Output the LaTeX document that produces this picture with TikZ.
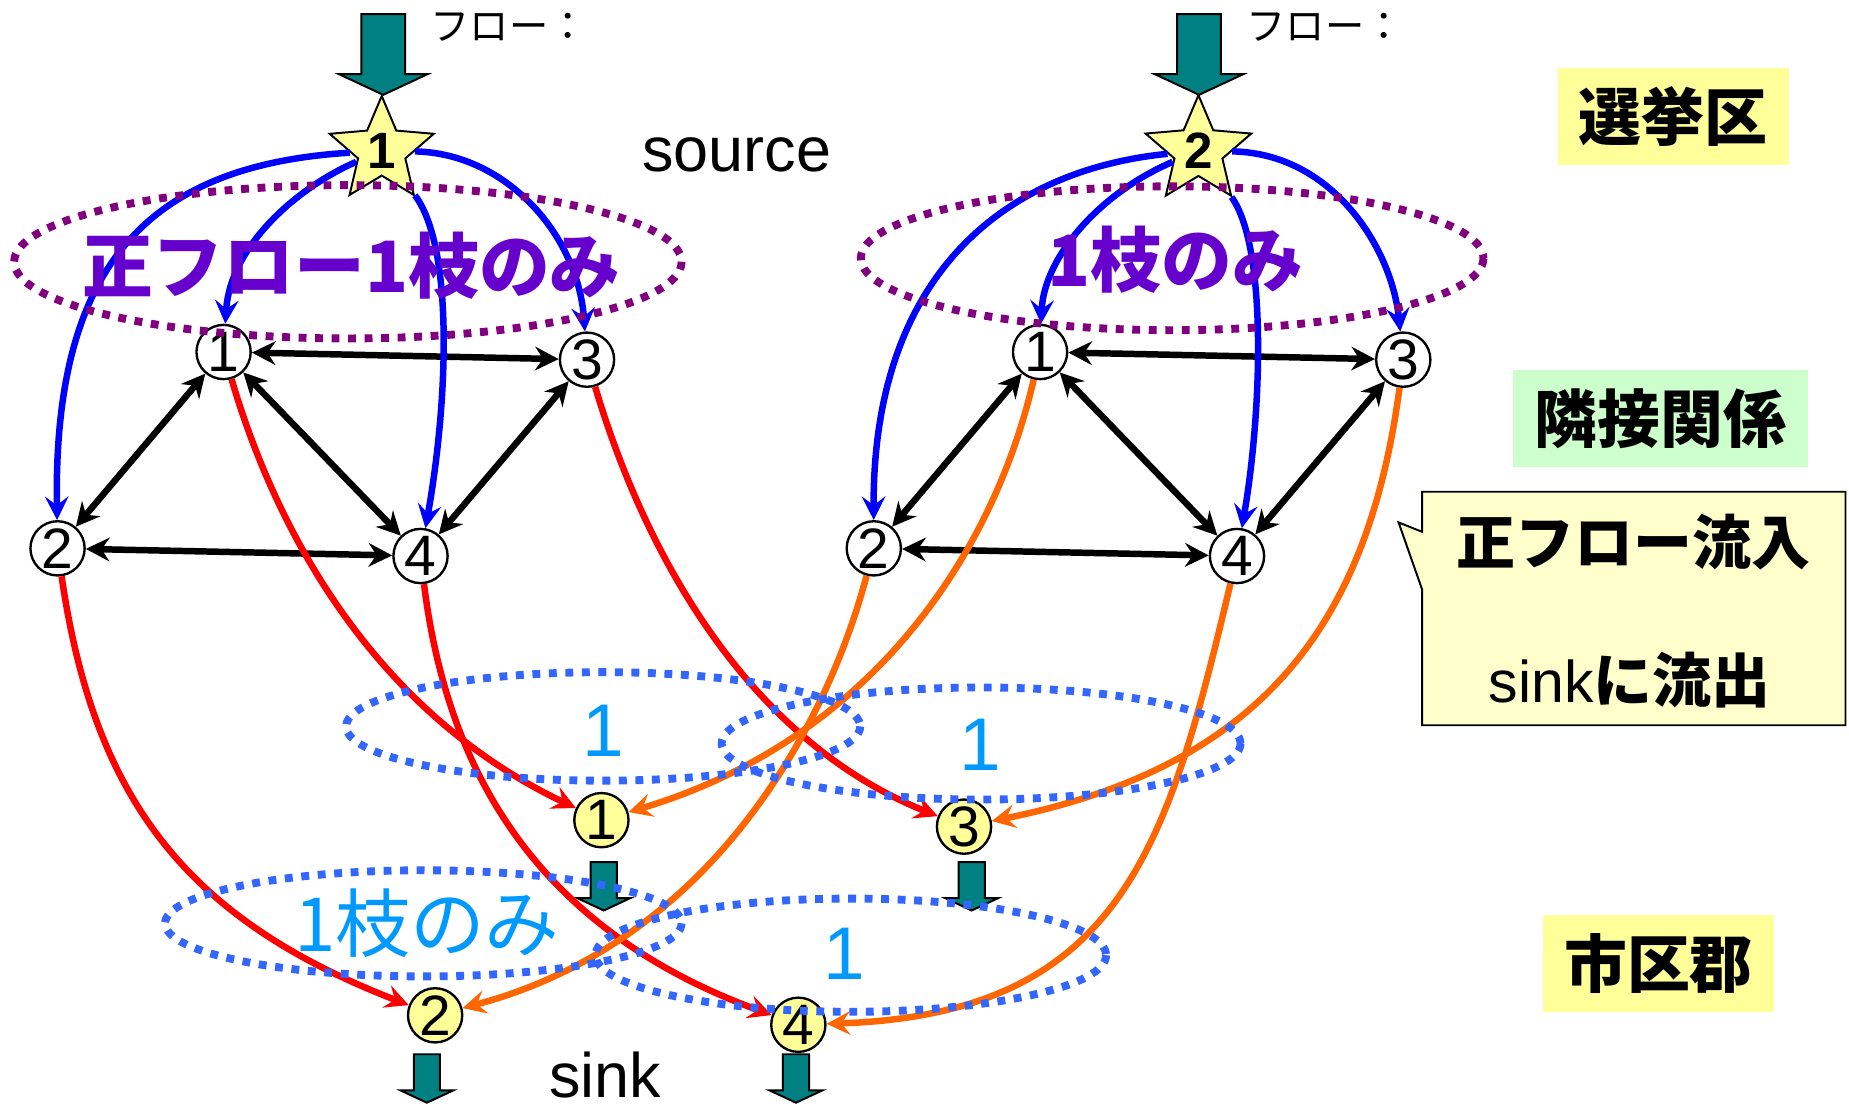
\documentclass[tikz,border=0pt]{standalone}
\usepackage{fontspec}
\setmainfont{Liberation Sans}
\newfontfamily\jpfont{Noto Sans CJK JP}
\usetikzlibrary{arrows.meta,shapes.geometric}

\definecolor{flowteal}{HTML}{008080}
\definecolor{starfill}{HTML}{FFFF99}
\definecolor{adjgreen}{HTML}{CCFFCC}
\definecolor{notefill}{HTML}{FFFFCC}
\definecolor{onlyone}{HTML}{6600CC}
\definecolor{ringpurple}{HTML}{800080}
\definecolor{ringblue}{HTML}{3366FF}
\definecolor{countblue}{HTML}{0099FF}
\definecolor{outorange}{HTML}{FF6600}

\tikzset{every picture/.style={line width=0.75pt}}
\tikzset{
  dnode/.style={circle,draw,line width=1.2pt,fill=white,minimum size=27.6pt,inner sep=0pt,font=\fontsize{29}{29}\selectfont},
  snode/.style={dnode,fill=starfill},
  srcstar/.style={star,star points=5,star point ratio=2.2,draw,line width=1pt,fill=starfill,minimum size=52pt,inner sep=0pt,font=\bfseries\fontsize{26}{26}\selectfont},
  tip/.style={-{Stealth[length=12pt,width=12pt,inset=4.5pt]}},
  srcflow/.style={blue,line width=3.3pt,tip},
  redflow/.style={red,line width=3.3pt,tip},
  orflow/.style={outorange,line width=3.3pt,tip},
  adjedge/.style={black,line width=3.3pt,{Stealth[length=12pt,width=12pt,inset=4pt]}-{Stealth[length=12pt,width=12pt,inset=4pt]}},
  purplering/.style={ringpurple,line width=4pt,dash pattern=on 4pt off 4.4pt},
  bluering/.style={ringblue,line width=4pt,dash pattern=on 4pt off 4.4pt},
  flowshape/.style={draw=black,line width=1pt,fill=flowteal},
  onlytext/.style={text=onlyone,inner sep=0pt,font=\jpfont\bfseries\fontsize{36}{36}\selectfont},
  countlbl/.style={text=countblue,inner sep=0pt,font=\fontsize{38}{38}\selectfont},
  tagbox/.style={minimum width=117.6pt,minimum height=49.2pt,inner sep=0pt,font=\jpfont\bfseries\fontsize{32}{32}\selectfont},
}

% big/small flow arrow pointing down, top centre at (#1,#2)
\newcommand{\tealarrow}[3]{%
  \begin{scope}[shift={(#1,#2)},scale=#3]
    \draw[flowshape] (-18.5,0) -- (18.5,0) -- (18.5,51) -- (37.5,51) -- (0,68.5) -- (-37.5,51) -- (-18.5,51) -- cycle;
  \end{scope}}

\begin{document}
\begin{tikzpicture}[x=0.6pt,y=0.6pt,yscale=-1,xscale=1]
\useasboundingbox (0,0) rectangle (1568,941);

% sources
\tealarrow{325}{11.9}{1}
\tealarrow{1016.8}{11.9}{1}
\node[anchor=west,font=\jpfont\fontsize{20}{20}\selectfont] (fl1) at (359,23) {フロー：};
\node[anchor=west,font=\jpfont\fontsize{20}{20}\selectfont] (fl2) at (1051,23) {フロー：};
\node[srcstar] (st1) at (323.7,127.8) {1};
\node[srcstar] (st2) at (1016.3,127.8) {2};
\node[anchor=base,font=\fontsize{32}{32}\selectfont] (srclbl) at (624.7,145.6) {source};

% adjacency graphs
\node[dnode] (n1) at (189.6,298.5) {1};
\node[dnode] (n2) at (48.8,465) {2};
\node[dnode] (n3) at (497.8,305) {3};
\node[dnode] (n4) at (356.6,471.5) {4};
\node[dnode] (m1) at (882,298.5) {1};
\node[dnode] (m2) at (741,465) {2};
\node[dnode] (m3) at (1190,305) {3};
\node[dnode] (m4) at (1049,471.5) {4};

\draw[adjedge] (n1) -- (n3);
\draw[adjedge] (n1) -- (n2);
\draw[adjedge] (n1) -- (n4);
\draw[adjedge] (n2) -- (n4);
\draw[adjedge] (n3) -- (n4);
\draw[adjedge] (m1) -- (m3);
\draw[adjedge] (m1) -- (m2);
\draw[adjedge] (m1) -- (m4);
\draw[adjedge] (m2) -- (m4);
\draw[adjedge] (m3) -- (m4);

% sinks
\node[snode] (s1) at (510,695.5) {1};
\node[snode] (s2) at (369,861) {2};
\node[snode] (s3) at (817.5,701) {3};
\node[snode] (s4) at (677,869) {4};
\tealarrow{512}{731}{0.6}
\tealarrow{824}{731}{0.6}
\tealarrow{362}{894}{0.6}
\tealarrow{675}{894}{0.6}
\node[anchor=base,font=\fontsize{32}{32}\selectfont] (sinklbl) at (513,931) {sink};

% source -> district
\draw[srcflow] (st1) .. controls (125,140) and (45,225) .. (n2);
\draw[srcflow] (st1) .. controls (250,160) and (195,210) .. (n1);
\draw[srcflow] (st1) .. controls (385,210) and (380,340) .. (n4);
\draw[srcflow] (st1) .. controls (430,130) and (490,200) .. (n3);
\draw[srcflow] (st2) .. controls (845,145) and (740,240) .. (m2);
\draw[srcflow] (st2) .. controls (930,165) and (885,220) .. (m1);
\draw[srcflow] (st2) .. controls (1075,210) and (1070,350) .. (m4);
\draw[srcflow] (st2) .. controls (1130,130) and (1180,210) .. (m3);

% district -> sink
\draw[redflow] (n1) .. controls (240,470) and (330,610) .. (s1);
\draw[redflow] (n3) .. controls (550,480) and (640,630) .. (s3);
\draw[redflow] (n2) .. controls (80,680) and (160,780) .. (s2);
\draw[redflow] (n4) .. controls (380,660) and (460,790) .. (s4);
\draw[orflow] (m1) .. controls (840,480) and (730,630) .. (s1);
\draw[orflow] (m3) .. controls (1160,530) and (1070,650) .. (s3);
\draw[orflow] (m2) .. controls (700,620) and (600,800) .. (s2);
\draw[orflow] (m4) .. controls (990,720) and (950,860) .. (s4);

% one-edge constraints
\draw[purplering] (295,222) ellipse [x radius=283,y radius=65];
\draw[purplering] (994,219) ellipse [x radius=264,y radius=61];
\draw[bluering] (511.5,616) ellipse [x radius=218,y radius=46];
\draw[bluering] (832,630.5) ellipse [x radius=220,y radius=47.5];
\draw[bluering] (359,783) ellipse [x radius=219,y radius=45];
\draw[bluering] (721.5,810) ellipse [x radius=216.5,y radius=48];
\node[onlytext] (cap1) at (298,225) {正フロー1枝のみ};
\node[onlytext] (cap2) at (996.5,220.5) {1枝のみ};
\node[countlbl] (c1) at (512,620) {1};
\node[countlbl] (c3) at (831,632) {1};
\node[countlbl] (c4) at (716,809) {1};
\node[countlbl,font=\jpfont\fontsize{38}{38}\selectfont] (c2) at (362,783) {1枝のみ};

% legend
\node[tagbox,fill=starfill] (elect) at (1419,99) {選挙区};
\node[tagbox,fill=adjgreen,minimum width=150pt] (adj) at (1408,355) {隣接関係};
\node[tagbox,fill=starfill] (city) at (1406.4,817) {市区郡};
\draw[line width=1pt,fill=notefill] (1206,417) -- (1565,417) -- (1565,615) -- (1206,615) -- (1206,500) -- (1186,443) -- (1206,451) -- cycle;
\node[font=\jpfont\bfseries\fontsize{30}{30}\selectfont] (note1) at (1385,460) {正フロー流入};
\node[font=\jpfont\bfseries\fontsize{30}{30}\selectfont] (note2) at (1382,577) {{\rmfamily\mdseries sink}に流出};
\end{tikzpicture}
\end{document}
